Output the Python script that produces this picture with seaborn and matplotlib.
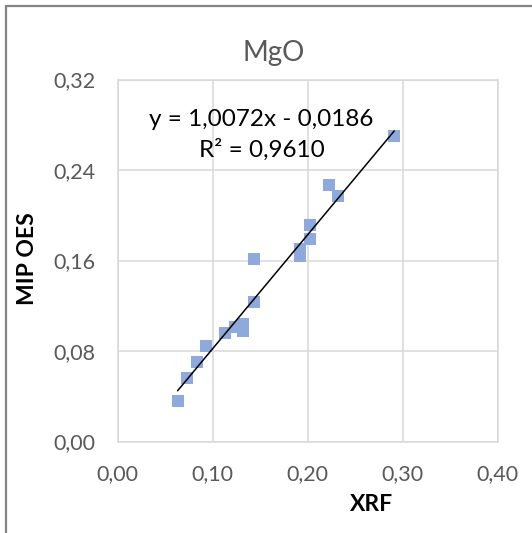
import matplotlib
matplotlib.use("Agg")
import matplotlib.pyplot as plt
from matplotlib.lines import Line2D
import seaborn as sns
import pandas as pd
import numpy as np

# ---- data ----
xrf = [0.063, 0.073, 0.083, 0.093, 0.113, 0.123, 0.132, 0.132, 0.143, 0.143,
       0.192, 0.192, 0.202, 0.202, 0.222, 0.232, 0.291]
mip_oes = [0.036, 0.056, 0.070, 0.084, 0.096, 0.101, 0.104, 0.098, 0.123, 0.161,
           0.164, 0.170, 0.179, 0.191, 0.227, 0.217, 0.270]
slope = 1.0072
intercept = -0.0186
r2_text = "R² = 0,9610"
eq_text = "y = 1,0072x - 0,0186"
x_ticks = [0.0, 0.1, 0.2, 0.3, 0.4]
x_tick_labels = ["0,00", "0,10", "0,20", "0,30", "0,40"]
y_ticks = [0.0, 0.08, 0.16, 0.24, 0.32]
y_tick_labels = ["0,00", "0,08", "0,16", "0,24", "0,32"]
title = "MgO"
x_label = "XRF"
y_label = "MIP OES"

sns.set_theme(style="white")
plt.rcParams["font.family"] = ["Lato", "DejaVu Sans"]

W, H = 532, 533
fig = plt.figure(figsize=(W / 100, H / 100), dpi=100)
ax = fig.add_axes([117.7 / W, 1 - 441.5 / H, (497.8 - 117.7) / W, (441.5 - 79.5) / H])

df = pd.DataFrame({"XRF": xrf, "MIP": mip_oes})
sns.scatterplot(data=df, x="XRF", y="MIP", marker="s", s=75, color="#8EA9DB",
                linewidth=0, ax=ax, zorder=3)

xl = np.array([min(xrf), max(xrf)])
trend = pd.DataFrame({"x": xl, "y": slope * xl + intercept})
sns.lineplot(data=trend, x="x", y="y", color="black", linewidth=1.1, ax=ax, zorder=4)

ax.set_xlim(0, 0.4)
ax.set_ylim(0, 0.32)
ax.set_xticks(x_ticks)
ax.set_xticklabels(x_tick_labels)
ax.set_yticks(y_ticks)
ax.set_yticklabels(y_tick_labels)
ax.tick_params(axis="both", length=0, labelsize=15.5, labelcolor="#595959")
ax.tick_params(axis="y", pad=16)
ax.tick_params(axis="x", pad=16)
ax.grid(True, color="#D9D9D9", linewidth=1.1)
ax.set_axisbelow(True)
for sp in ax.spines.values():
    sp.set_color("#D9D9D9")
    sp.set_linewidth(1.1)
ax.set_xlabel("")
ax.set_ylabel("")

fig.text(273.8 / W, 1 - 60.7 / H, title, ha="center", va="baseline",
         fontsize=20, color="#595959")
fig.text(261.5 / W, 1 - 126 / H, eq_text, ha="center", va="baseline",
         fontsize=17.5, color="black")
fig.text(261.5 / W, 1 - 157 / H, r2_text, ha="center", va="baseline",
         fontsize=17.5, color="black")
fig.text(371.6 / W, 1 - 511 / H, x_label, ha="center", va="baseline",
         fontsize=16.5, fontweight="bold", color="black")
fig.text(28 / W, 1 - 259 / H, y_label, ha="center", va="center", rotation=90,
         fontsize=16.5, fontweight="bold", color="black")

# chart border (top and left visible)
fig.add_artist(Line2D([5.5 / W, 5.5 / W], [0, 1 - 6 / H], transform=fig.transFigure,
                      color="#858585", linewidth=1.6))
fig.add_artist(Line2D([5.5 / W, 1], [1 - 6 / H, 1 - 6 / H], transform=fig.transFigure,
                      color="#858585", linewidth=1.6))

fig.savefig("out.png", dpi=100)
